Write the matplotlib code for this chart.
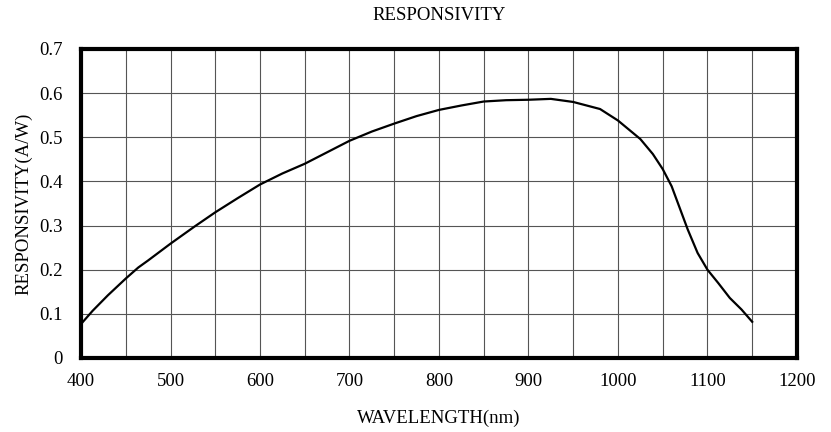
import matplotlib.pyplot as plt

# wavelength (nm) and responsivity (A/W)
wavelength = [400, 413, 430, 450, 464, 475, 500, 527, 550, 575, 600, 625, 650,
              675, 700, 725, 750, 775, 800, 825, 850, 875, 900, 925, 950, 980,
              1000, 1025, 1039, 1050, 1060, 1069, 1078, 1089, 1100, 1112,
              1125, 1138, 1150]
responsivity = [0.077, 0.107, 0.142, 0.18, 0.205, 0.221, 0.259, 0.298, 0.33,
                0.362, 0.393, 0.418, 0.44, 0.466, 0.492, 0.513, 0.531, 0.548,
                0.562, 0.572, 0.581, 0.584, 0.585, 0.587, 0.58, 0.564, 0.538,
                0.496, 0.462, 0.428, 0.389, 0.34, 0.291, 0.238, 0.2, 0.17,
                0.136, 0.11, 0.082]

x_ticks = [400, 500, 600, 700, 800, 900, 1000, 1100, 1200]
y_ticks = [0, 0.1, 0.2, 0.3, 0.4, 0.5, 0.6, 0.7]
y_labels = ['0', '0.1', '0.2', '0.3', '0.4', '0.5', '0.6', '0.7']

plt.rcParams['font.family'] = ['Liberation Serif', 'DejaVu Serif']

fig = plt.figure(figsize=(8.31, 4.32), dpi=100)
ax = fig.add_axes([0.0975, 0.1713, 0.8615, 0.7153])

ax.plot(wavelength, responsivity, color='black', linewidth=1.6,
        solid_joinstyle='round')

ax.set_xlim(400, 1200)
ax.set_ylim(0, 0.7)
ax.set_xticks(x_ticks)
ax.set_xticks(range(450, 1200, 100), minor=True)
ax.set_yticks(y_ticks)
ax.set_yticklabels(y_labels)
ax.tick_params(axis='both', which='both', length=0, labelsize=13.5)
ax.tick_params(axis='x', pad=11)
ax.tick_params(axis='y', pad=13)
ax.grid(True, which='both', color='#555555', linewidth=0.8)

for s in ax.spines.values():
    s.set_linewidth(3)
    s.set_zorder(5)

ax.set_title('RESPONSIVITY', fontsize=13.5, pad=21)
ax.set_xlabel('WAVELENGTH(nm)', fontsize=13.5, labelpad=14)
ax.set_ylabel('RESPONSIVITY(A/W)', fontsize=13.5, labelpad=5)

fig.savefig('out.png', dpi=100)
